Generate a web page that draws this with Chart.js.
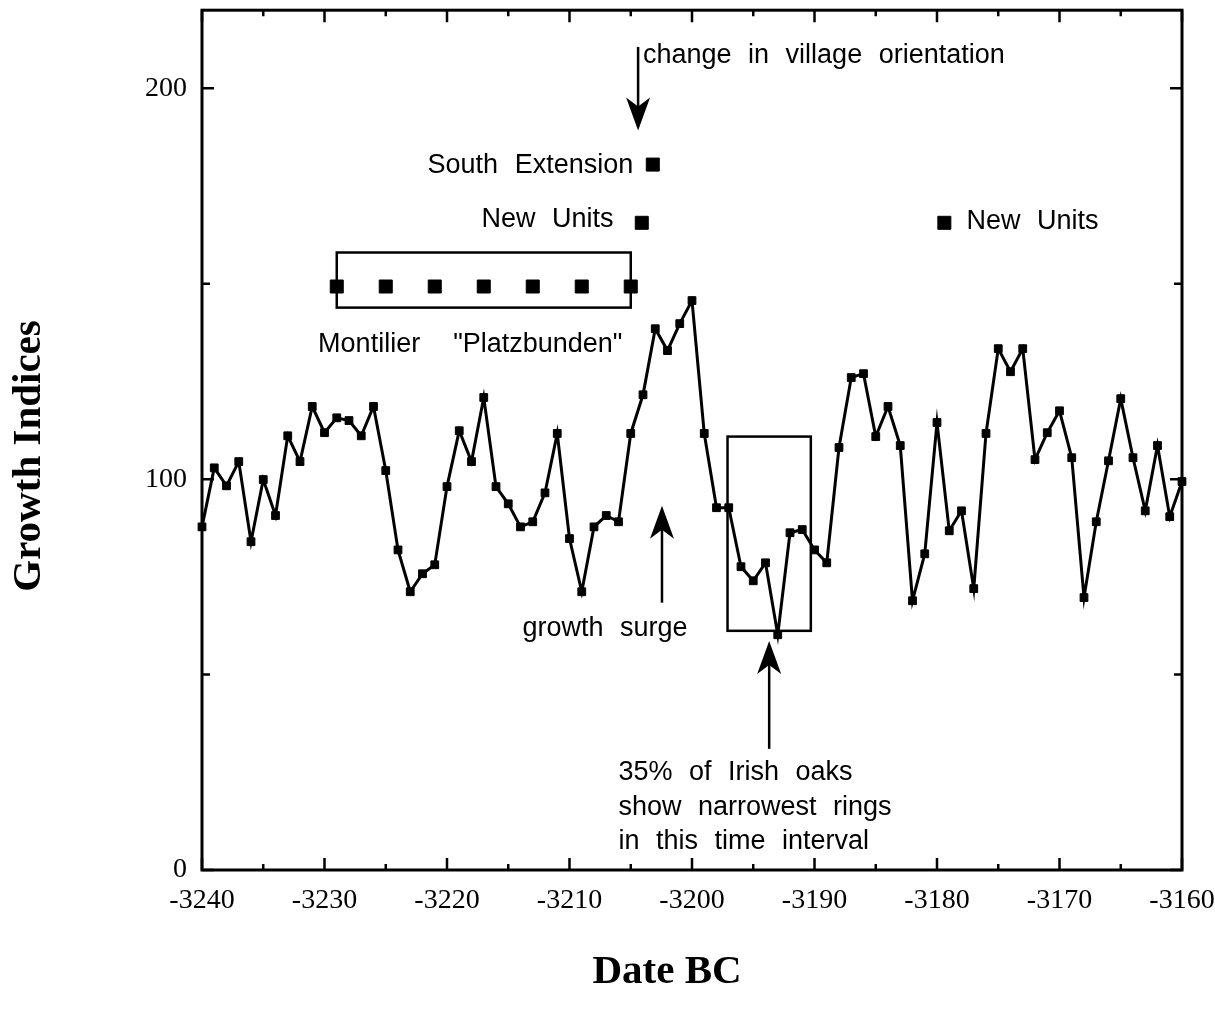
<!DOCTYPE html>
<html>
<head>
<meta charset="utf-8">
<script src="https://cdn.jsdelivr.net/npm/chart.js@4.4.0/dist/chart.umd.min.js"></script>
<style>
  html, body { margin: 0; padding: 0; background: #fff; }
  #wrap { width: 1215px; height: 1016px; }
</style>
</head>
<body>
<div id="wrap"><canvas id="chart" width="1215" height="1016"></canvas></div>
<script>
// Años (eje x) y índices de crecimiento
const years = [
  -3240, -3239, -3238, -3237, -3236, -3235, -3234, -3233, -3232, -3231,
  -3230, -3229, -3228, -3227, -3226, -3225, -3224, -3223, -3222, -3221,
  -3220, -3219, -3218, -3217, -3216, -3215, -3214, -3213, -3212, -3211,
  -3210, -3209, -3208, -3207, -3206, -3205, -3204, -3203, -3202, -3201,
  -3200, -3199, -3198, -3197, -3196, -3195, -3194, -3193, -3192, -3191,
  -3190, -3189, -3188, -3187, -3186, -3185, -3184, -3183, -3182, -3181,
  -3180, -3179, -3178, -3177, -3176, -3175, -3174, -3173, -3172, -3171,
  -3170, -3169, -3168, -3167, -3166, -3165, -3164, -3163, -3162, -3161,
  -3160
];
const growth = [
  87.8, 102.9, 98.3, 104.5, 84.0, 99.9, 90.7, 111.1, 104.5, 118.6,
  111.9, 115.7, 115.0, 111.1, 118.6, 102.2, 81.9, 71.2, 75.8, 78.1,
  98.1, 112.4, 104.5, 120.9, 98.1, 93.7, 87.8, 89.1, 96.5, 111.7,
  84.8, 71.2, 87.8, 90.7, 89.1, 111.7, 121.6, 138.5, 132.9, 139.8,
  145.7, 111.7, 92.7, 92.7, 77.6, 74.0, 78.6, 60.2, 86.3, 87.1,
  81.9, 78.6, 108.1, 126.0, 127.0, 110.9, 118.6, 108.6, 68.9, 80.9,
  114.5, 86.8, 91.9, 72.0, 111.7, 133.4, 127.5, 133.4, 105.0, 111.9,
  117.5, 105.5, 69.7, 89.1, 104.7, 120.6, 105.5, 91.9, 108.6, 90.4,
  99.4
];

// Marcas de eventos arqueológicos
const montilierYears = [-3229, -3225, -3221, -3217, -3213, -3209, -3205];
const montilierLevel = [149.3, 149.3, 149.3, 149.3, 149.3, 149.3, 149.3];
const southExtYears = [-3203.2];
const southExtLevel = [180.5];
const newUnitsYears = [-3204.1, -3179.4];
const newUnitsLevel = [165.6, 165.6];

// Ticks
const xTickValues = [-3240, -3235, -3230, -3225, -3220, -3215, -3210, -3205, -3200,
  -3195, -3190, -3185, -3180, -3175, -3170, -3165, -3160];
const xLabelled = [-3240, -3230, -3220, -3210, -3200, -3190, -3180, -3170, -3160];
const yTickValues = [0, 50, 100, 150, 200];
const yLabelled = [0, 100, 200];

// Textos
const xTitle = 'Date BC';
const yTitle = 'Growth Indices';
const txtOrientation = 'change in village orientation';
const txtSouth = 'South Extension';
const txtNewUnits = 'New Units';
const txtMontilier = 'Montilier  "Platzbunden"';
const txtSurge = 'growth surge';
const txtOaks = ['35% of Irish oaks', 'show narrowest rings', 'in this time interval'];

const sans = '27px "Liberation Sans", Arial, sans-serif';

function pts(xs, ys) {
  return xs.map((x, i) => ({ x: x, y: ys[i] }));
}

// Flecha vertical (cola -> punta) en coordenadas de datos
function arrow(ctx, x, yTail, yTip) {
  const dir = yTip > yTail ? 1 : -1;
  ctx.beginPath();
  ctx.moveTo(x, yTail);
  ctx.lineTo(x, yTip - dir * 20);
  ctx.stroke();
  ctx.beginPath();
  ctx.moveTo(x, yTip);
  ctx.lineTo(x - 12, yTip - dir * 33);
  ctx.lineTo(x, yTip - dir * 24);
  ctx.lineTo(x + 12, yTip - dir * 33);
  ctx.closePath();
  ctx.fill();
}

function label(ctx, s, x, y, align) {
  ctx.font = sans;
  ctx.textAlign = align;
  ctx.textBaseline = 'middle';
  if ('wordSpacing' in ctx) ctx.wordSpacing = '9px';
  ctx.fillText(s, x, y);
  if ('wordSpacing' in ctx) ctx.wordSpacing = '0px';
}

const annotations = {
  id: 'annotations',
  beforeDatasetsDraw(chart) {
    const ctx = chart.ctx;
    const xs = chart.scales.x, ys = chart.scales.y;
    const a = chart.chartArea;
    const X = v => xs.getPixelForValue(v);
    const Y = v => ys.getPixelForValue(v);
    ctx.save();
    ctx.strokeStyle = '#000';
    ctx.fillStyle = '#000';

    // marco
    ctx.lineWidth = 3;
    ctx.strokeRect(a.left, a.top, a.right - a.left, a.bottom - a.top);

    // ticks hacia adentro
    ctx.lineWidth = 2.5;
    xs.ticks.forEach(t => {
      const px = X(t.value);
      const len = t.value % 10 === 0 ? 12 : 6;
      ctx.beginPath();
      ctx.moveTo(px, a.bottom); ctx.lineTo(px, a.bottom - len);
      ctx.moveTo(px, a.top); ctx.lineTo(px, a.top + len);
      ctx.stroke();
    });
    ys.ticks.forEach(t => {
      const py = Y(t.value);
      const len = t.value % 100 === 0 ? 12 : 8;
      ctx.beginPath();
      ctx.moveTo(a.left, py); ctx.lineTo(a.left + len, py);
      ctx.moveTo(a.right, py); ctx.lineTo(a.right - len, py);
      ctx.stroke();
    });

    // recuadros
    ctx.lineWidth = 2.5;
    ctx.strokeRect(X(-3229), Y(158), X(-3205) - X(-3229), Y(143.9) - Y(158));
    ctx.strokeRect(X(-3197.1), Y(110.9), X(-3190.3) - X(-3197.1), Y(61.2) - Y(110.9));
    ctx.restore();
  },
  afterDatasetsDraw(chart) {
    const ctx = chart.ctx;
    const xs = chart.scales.x, ys = chart.scales.y;
    const X = v => xs.getPixelForValue(v);
    const Y = v => ys.getPixelForValue(v);
    ctx.save();
    ctx.strokeStyle = '#000';
    ctx.fillStyle = '#000';
    ctx.lineWidth = 2.5;

    // flechas
    arrow(ctx, X(-3204.4), Y(210.6), Y(189.2));
    arrow(ctx, X(-3202.45), Y(68.4), Y(93.2));
    arrow(ctx, X(-3193.7), Y(31), Y(58.6));

    // textos
    label(ctx, txtOrientation, X(-3204.0), Y(208.4), 'left');
    label(ctx, txtSouth, X(-3204.8), Y(180.3), 'right');
    label(ctx, txtNewUnits, X(-3206.4), Y(166.4), 'right');
    label(ctx, txtNewUnits, X(-3177.6), Y(166.0), 'left');
    label(ctx, txtMontilier, X(-3218.1), Y(134.4), 'center');
    label(ctx, txtSurge, X(-3207.1), Y(61.8), 'center');
    label(ctx, txtOaks[0], X(-3206.0), Y(25.0), 'left');
    label(ctx, txtOaks[1], X(-3206.0), Y(16.0), 'left');
    label(ctx, txtOaks[2], X(-3206.0), Y(7.2), 'left');

    // títulos de ejes
    ctx.font = 'bold 41px "Liberation Serif", "Times New Roman", serif';
    ctx.textBaseline = 'middle';
    ctx.textAlign = 'center';
    ctx.fillText(xTitle, 667, 972);
    ctx.translate(29, 456);
    ctx.rotate(-Math.PI / 2);
    ctx.fillText(yTitle, 0, 0);
    ctx.restore();
  }
};

const markStyle = {
  showLine: false,
  pointStyle: 'rect',
  borderColor: '#000',
  backgroundColor: '#000',
  pointBorderWidth: 1,
  clip: false
};

const chart = new Chart(document.getElementById('chart'), {
  type: 'line',
  data: {
    datasets: [
      {
        label: 'Growth Indices',
        data: pts(years, growth),
        borderColor: '#000',
        backgroundColor: '#000',
        borderWidth: 3,
        pointStyle: 'rect',
        pointRadius: 5.5,
        pointBorderWidth: 1,
        tension: 0,
        clip: false
      },
      Object.assign({ label: 'Montilier "Platzbunden"', data: pts(montilierYears, montilierLevel), pointRadius: 9.2 }, markStyle),
      Object.assign({ label: 'South Extension', data: pts(southExtYears, southExtLevel), pointRadius: 9.2 }, markStyle),
      Object.assign({ label: 'New Units', data: pts(newUnitsYears, newUnitsLevel), pointRadius: 9.2 }, markStyle)
    ]
  },
  options: {
    responsive: false,
    animation: false,
    events: [],
    layout: { padding: { top: 10, right: 33, left: 0, bottom: 0 } },
    plugins: { legend: { display: false }, tooltip: { enabled: false } },
    scales: {
      x: {
        type: 'linear',
        min: -3240,
        max: -3160,
        grid: { display: false, drawTicks: false },
        border: { display: false },
        afterBuildTicks: s => { s.ticks = xTickValues.map(v => ({ value: v })); },
        afterFit: s => { s.height = 146; s.paddingLeft = 0; s.paddingRight = 0; },
        ticks: {
          autoSkip: false,
          maxRotation: 0,
          padding: 14,
          color: '#000',
          font: { family: '"Liberation Serif", "Times New Roman", serif', size: 28 },
          callback: v => xLabelled.includes(v) ? String(v) : ''
        }
      },
      y: {
        type: 'linear',
        min: 0,
        max: 220,
        grid: { display: false, drawTicks: false },
        border: { display: false },
        afterBuildTicks: s => { s.ticks = yTickValues.map(v => ({ value: v })); },
        afterFit: s => { s.width = 202; s.paddingTop = 0; s.paddingBottom = 0; },
        ticks: {
          padding: 15,
          color: '#000',
          font: { family: '"Liberation Serif", "Times New Roman", serif', size: 28 },
          callback: v => yLabelled.includes(v) ? String(v) : ''
        }
      }
    }
  },
  plugins: [annotations]
});
</script>
</body>
</html>
